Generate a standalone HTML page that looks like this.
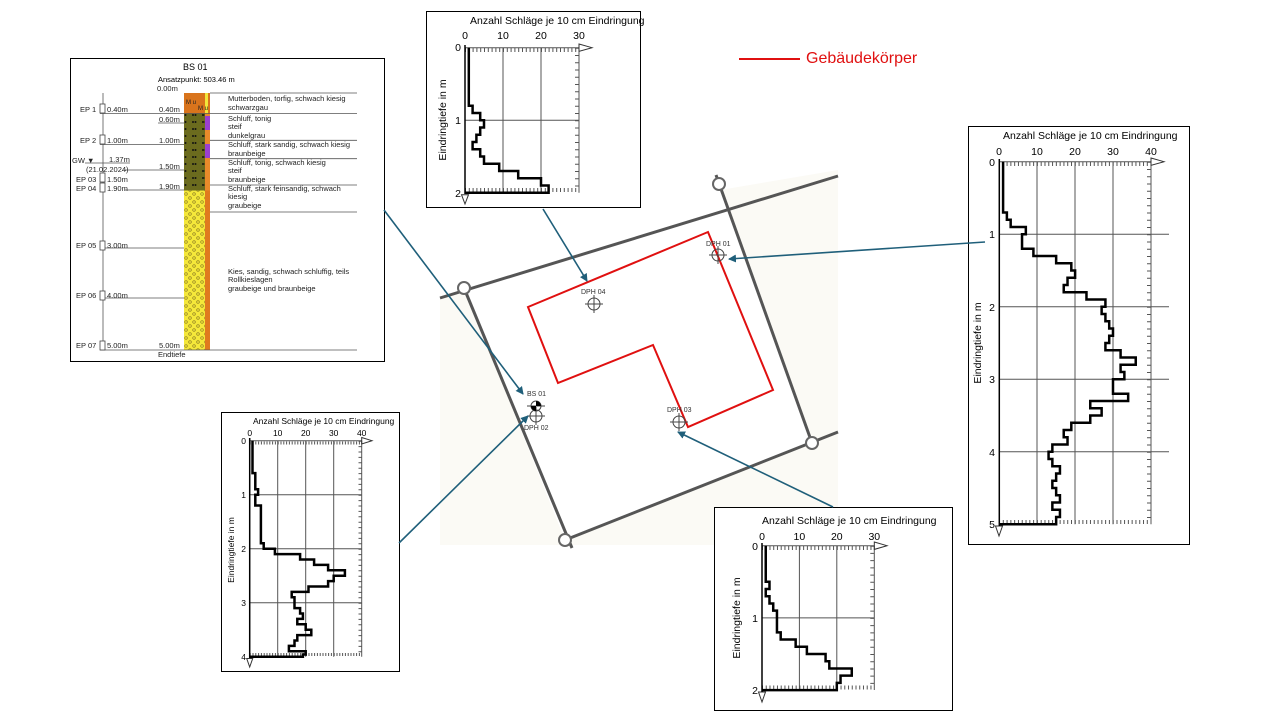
<!DOCTYPE html>
<html><head><meta charset="utf-8"><style>
html,body{margin:0;padding:0;background:#fff;}
svg{display:block;font-family:"Liberation Sans",sans-serif;}
</style></head><body>
<svg width="1280" height="720" viewBox="0 0 1280 720" xmlns="http://www.w3.org/2000/svg">
<defs>
<marker id="ar" markerWidth="8" markerHeight="8" refX="7" refY="4" orient="auto" markerUnits="userSpaceOnUse"><path d="M0,0 L8,4 L0,8 Z" fill="#1f5f7a"/></marker>
<pattern id="kies" width="8" height="8" patternUnits="userSpaceOnUse">
<rect width="8" height="8" fill="#f5e83a"/>
<circle cx="2" cy="2" r="1.3" fill="none" stroke="#8a7a20" stroke-width="0.7"/>
<circle cx="6" cy="6" r="1.3" fill="none" stroke="#8a7a20" stroke-width="0.7"/>
</pattern>
<pattern id="schluff" width="10" height="7" patternUnits="userSpaceOnUse">
<rect width="10" height="7" fill="#6b6b1e"/>
<circle cx="3" cy="3" r="1" fill="#111"/><circle cx="5.5" cy="3" r="1" fill="#111"/>
</pattern>
</defs>

<!-- MAP -->
<polygon points="440,300 720,190 838,170 838,545 440,545" fill="#fbfaf5"/>
<polygon points="464,288 720,184 812,443 565,540" fill="#fff"/>
<g stroke="#555" stroke-width="3" fill="none">
<line x1="440" y1="298" x2="838" y2="176"/>
<line x1="464" y1="288" x2="572" y2="548"/>
<line x1="716" y1="175" x2="812" y2="443"/>
<line x1="560" y1="542" x2="838" y2="432"/>
</g>
<g fill="#fff" stroke="#666" stroke-width="2">
<circle cx="464" cy="288" r="6"/><circle cx="719" cy="184" r="6"/><circle cx="812" cy="443" r="6"/><circle cx="565" cy="540" r="6"/>
</g>
<polygon points="528,307 708,232 773,390 688,427 653,345 558,383" fill="none" stroke="#e01010" stroke-width="2"/>
<g stroke="#444" stroke-width="1" fill="none">
<circle cx="718" cy="255" r="6"/><line x1="709" y1="255" x2="727" y2="255"/><line x1="718" y1="246" x2="718" y2="264"/>
<circle cx="594" cy="304" r="6"/><line x1="585" y1="304" x2="603" y2="304"/><line x1="594" y1="295" x2="594" y2="313"/>
<circle cx="679" cy="422" r="6"/><line x1="670" y1="422" x2="688" y2="422"/><line x1="679" y1="413" x2="679" y2="431"/>
<circle cx="536" cy="416" r="6"/><line x1="527" y1="416" x2="545" y2="416"/><line x1="536" y1="407" x2="536" y2="425"/>
<circle cx="536" cy="406" r="5"/><line x1="527" y1="406" x2="545" y2="406"/>
</g>
<path d="M536,406 L536,401 A5,5 0 0 1 541,406 Z M536,406 L531,406 A5,5 0 0 0 536,411 Z" fill="#000"/>
<g font-size="7" fill="#333">
<text x="706" y="246">DPH 01</text><text x="581" y="294">DPH 04</text><text x="667" y="412">DPH 03</text>
<text x="527" y="396">BS 01</text><text x="524" y="430">DPH 02</text>
</g>

<!-- Legend -->
<line x1="739" y1="59" x2="800" y2="59" stroke="#e01010" stroke-width="2"/>
<text x="806" y="63" font-size="16" fill="#e01010">Gebäudekörper</text>

<!-- BS 01 profile -->
<rect x="70.5" y="58.5" width="314" height="303" fill="#fff" stroke="#000"/>
<text x="183" y="70" font-size="9">BS 01</text>
<text x="158" y="82" font-size="7.5">Ansatzpunkt: 503.46 m</text>
<rect x="184" y="93" width="26" height="20.5" fill="#d9741c"/>
<rect x="205" y="93" width="3" height="20.5" fill="#f2e63a"/>
<rect x="184" y="113.5" width="21" height="77" fill="url(#schluff)"/>
<rect x="205" y="113.5" width="5" height="77" fill="#e88a2a"/>
<rect x="205" y="116" width="5" height="14" fill="#9b3fd0"/>
<rect x="205" y="144" width="5" height="14" fill="#9b3fd0"/>
<rect x="184" y="190.5" width="21" height="159.5" fill="url(#kies)"/>
<rect x="205" y="190.5" width="5" height="159.5" fill="#e07a1e"/>
<g font-size="6" fill="#222">
<text x="186" y="104">M u</text><text x="198" y="110">M u</text>
</g>
<g stroke="#555" stroke-width="0.8">
<line x1="100" y1="113.5" x2="357" y2="113.5"/>
<line x1="210" y1="93" x2="357" y2="93"/>
<line x1="158" y1="123" x2="185" y2="123"/>
<line x1="100" y1="144.5" x2="184" y2="144.5"/>
<line x1="210" y1="140.3" x2="357" y2="140.3"/>
<line x1="210" y1="158.7" x2="357" y2="158.7"/>
<line x1="210" y1="185" x2="357" y2="185"/>
<line x1="210" y1="212" x2="357" y2="212"/>
<line x1="85" y1="163" x2="130" y2="163"/>
<line x1="100" y1="248" x2="184" y2="248"/>
<line x1="100" y1="298" x2="184" y2="298"/>
<line x1="100" y1="350" x2="357" y2="350"/>
<line x1="103" y1="93" x2="103" y2="350"/>
<line x1="125" y1="170" x2="184" y2="170"/>
<line x1="125" y1="190" x2="184" y2="190"/>
</g>
<g fill="#fff" stroke="#444" stroke-width="0.8">
<rect x="100" y="104" width="5" height="9"/><rect x="100" y="135" width="5" height="9"/>
<rect x="100" y="173" width="5" height="9"/><rect x="100" y="183" width="5" height="9"/>
<rect x="100" y="241" width="5" height="9"/><rect x="100" y="291" width="5" height="9"/><rect x="100" y="341" width="5" height="9"/>
</g>
<g font-size="7.5" fill="#222">
<text x="157" y="91">0.00m</text><text x="159" y="112">0.40m</text><text x="159" y="122">0.60m</text>
<text x="159" y="143">1.00m</text><text x="159" y="169">1.50m</text><text x="159" y="189">1.90m</text>
<text x="159" y="348">5.00m</text><text x="158" y="357">Endtiefe</text>
<text x="80" y="112">EP 1</text><text x="107" y="112">0.40m</text>
<text x="80" y="143">EP 2</text><text x="107" y="143">1.00m</text>
<text x="72" y="163">GW ▼</text><text x="109" y="162">1.37m</text><text x="86" y="172">(21.02.2024)</text>
<text x="76" y="182">EP 03</text><text x="107" y="182">1.50m</text>
<text x="76" y="191">EP 04</text><text x="107" y="191">1.90m</text>
<text x="76" y="248">EP 05</text><text x="107" y="248">3.00m</text>
<text x="76" y="298">EP 06</text><text x="107" y="298">4.00m</text>
<text x="76" y="348">EP 07</text><text x="107" y="348">5.00m</text>
<text x="228" y="101">Mutterboden, torfig, schwach kiesig</text><text x="228" y="110">schwarzgau</text>
<text x="228" y="121">Schluff, tonig</text><text x="228" y="129">steif</text><text x="228" y="138">dunkelgrau</text>
<text x="228" y="147">Schluff, stark sandig, schwach kiesig</text><text x="228" y="156">braunbeige</text>
<text x="228" y="165">Schluff, tonig, schwach kiesig</text><text x="228" y="173">steif</text><text x="228" y="182">braunbeige</text>
<text x="228" y="191">Schluff, stark feinsandig, schwach</text><text x="228" y="199">kiesig</text><text x="228" y="208">graubeige</text>
<text x="228" y="274">Kies, sandig, schwach schluffig, teils</text><text x="228" y="282">Rollkieslagen</text><text x="228" y="291">graubeige und braunbeige</text>
</g>

<!-- Chart A (top, DPH 04) -->
<rect x="426.5" y="11.5" width="214" height="196" fill="#fff" stroke="#000"/>
<text x="470" y="24" font-size="10.5">Anzahl Schläge je 10 cm Eindringung</text>
<g font-size="10.5" text-anchor="middle"><text x="465" y="39">0</text><text x="503" y="39">10</text><text x="541" y="39">20</text><text x="579" y="39">30</text></g>
<g font-size="10.5" text-anchor="end"><text x="461" y="51">0</text><text x="461" y="124">1</text><text x="461" y="197">2</text></g>
<text transform="translate(446,120) rotate(-90)" font-size="10.5" text-anchor="middle">Eindringtiefe in m</text>
<g stroke="#555" stroke-width="1" fill="none">
<line x1="503" y1="47.7" x2="503" y2="192.7"/><line x1="541" y1="47.7" x2="541" y2="192.7"/>
<line x1="465" y1="120.2" x2="579" y2="120.2"/>
<line x1="465" y1="47.7" x2="579" y2="47.7"/><line x1="579" y1="47.7" x2="579" y2="192.7"/>
<line x1="465" y1="50" x2="579" y2="50" stroke-width="4" stroke-dasharray="1 2.8"/>
<line x1="577" y1="47.7" x2="577" y2="192.7" stroke-width="4" stroke-dasharray="1 6.25"/>
<line x1="465" y1="190" x2="579" y2="190" stroke-width="4" stroke-dasharray="1 2.8"/>
<path d="M579,44 L592,47.7 L579,51.4 Z M461.5,194.7 L468.5,194.7 L465,204 Z" stroke="#333"/>
</g>
<line x1="465" y1="45" x2="465" y2="194" stroke="#000" stroke-width="1.5"/>
<path transform="translate(465,47.7) scale(3.8,7.25)" vector-effect="non-scaling-stroke" fill="none" stroke="#000" stroke-width="2.5" d="M1,0 V8 H2 V9 H4 V10 H5 V11 H4 V12 H3 V13 H2 V14 H4 V15 H5 V16 H9 V17 H14 V18 H20 V19 H22 V20 H0"/>

<!-- Chart B (right, DPH 01) -->
<rect x="968.5" y="126.5" width="221" height="418" fill="#fff" stroke="#000"/>
<text x="1003" y="139" font-size="10.5">Anzahl Schläge je 10 cm Eindringung</text>
<g font-size="10.5" text-anchor="middle"><text x="999" y="155">0</text><text x="1037" y="155">10</text><text x="1075" y="155">20</text><text x="1113" y="155">30</text><text x="1151" y="155">40</text></g>
<g font-size="10.5" text-anchor="end"><text x="995" y="166">0</text><text x="995" y="238">1</text><text x="995" y="311">2</text><text x="995" y="383">3</text><text x="995" y="456">4</text><text x="995" y="528">5</text></g>
<text transform="translate(981,343) rotate(-90)" font-size="10.5" text-anchor="middle">Eindringtiefe in m</text>
<g stroke="#555" stroke-width="1" fill="none">
<line x1="1037" y1="161.7" x2="1037" y2="524.2"/><line x1="1075" y1="161.7" x2="1075" y2="524.2"/><line x1="1113" y1="161.7" x2="1113" y2="524.2"/>
<line x1="999" y1="234.2" x2="1169" y2="234.2"/><line x1="999" y1="306.7" x2="1169" y2="306.7"/><line x1="999" y1="379.2" x2="1169" y2="379.2"/><line x1="999" y1="451.7" x2="1169" y2="451.7"/>
<line x1="999" y1="161.7" x2="1151" y2="161.7"/><line x1="1151" y1="161.7" x2="1151" y2="524.2"/>
<line x1="999" y1="164" x2="1151" y2="164" stroke-width="4" stroke-dasharray="1 2.79"/>
<line x1="1149" y1="161.7" x2="1149" y2="524.2" stroke-width="4" stroke-dasharray="1 6.25"/>
<line x1="999" y1="522" x2="1151" y2="522" stroke-width="4" stroke-dasharray="1 2.79"/>
<path d="M1151,158 L1164,161.7 L1151,165.4 Z M995.5,526 L1002.5,526 L999,536 Z" stroke="#333"/>
</g>
<line x1="999.3" y1="159" x2="999.3" y2="526" stroke="#000" stroke-width="1.5"/>
<path transform="translate(999.3,161.7) scale(3.79,7.25)" vector-effect="non-scaling-stroke" fill="none" stroke="#000" stroke-width="2.5" d="M1,0 V7 H2 V8 H3 V9 H7 V10 H6 V12 H9 V13 H15 V14 H19 V15 H20 V16 H18 V17 H17 V18 H23 V19 H28 V20 H27 V21 H28 V22 H29 V23 H30 V24 H29 V25 H28 V26 H32 V27 H36 V28 H32 V29 H33 V30 H30 V32 H34 V33 H24 V34 H27 V35 H24 V36 H19 V37 H17 V38 H18 V39 H14 V40 H13 V41 H14 V42 H16 V43 H15 V44 H14 V45 H15 V46 H16 V47 H14 V48 H16 V49 H15 V50 H0"/>

<!-- Chart C (bottom-left, DPH 02) -->
<rect x="221.5" y="412.5" width="178" height="259" fill="#fff" stroke="#000"/>
<text x="253" y="424" font-size="8.5">Anzahl Schläge je 10 cm Eindringung</text>
<g font-size="8.5" text-anchor="middle"><text x="249.7" y="436">0</text><text x="277.7" y="436">10</text><text x="305.7" y="436">20</text><text x="333.7" y="436">30</text><text x="361.7" y="436">40</text></g>
<g font-size="8.5" text-anchor="end"><text x="246" y="444">0</text><text x="246" y="498">1</text><text x="246" y="552">2</text><text x="246" y="606">3</text><text x="246" y="660">4</text></g>
<text transform="translate(234,550) rotate(-90)" font-size="8.5" text-anchor="middle">Eindringtiefe in m</text>
<g stroke="#555" stroke-width="1" fill="none">
<line x1="277.7" y1="440.7" x2="277.7" y2="656.7"/><line x1="305.7" y1="440.7" x2="305.7" y2="656.7"/><line x1="333.7" y1="440.7" x2="333.7" y2="656.7"/>
<line x1="249.7" y1="494.7" x2="361.7" y2="494.7"/><line x1="249.7" y1="548.7" x2="361.7" y2="548.7"/><line x1="249.7" y1="602.7" x2="361.7" y2="602.7"/>
<line x1="249.7" y1="440.7" x2="361.7" y2="440.7"/><line x1="361.7" y1="440.7" x2="361.7" y2="656.7"/>
<line x1="249.7" y1="443" x2="361.7" y2="443" stroke-width="3" stroke-dasharray="1 1.8"/>
<line x1="360" y1="440.7" x2="360" y2="656.7" stroke-width="3" stroke-dasharray="1 4.4"/>
<line x1="249.7" y1="654.5" x2="361.7" y2="654.5" stroke-width="3" stroke-dasharray="1 1.8"/>
<path d="M361.7,437.5 L372,440.7 L361.7,444 Z M246.7,658.5 L252.7,658.5 L249.7,667 Z" stroke="#333"/>
</g>
<line x1="249.7" y1="438" x2="249.7" y2="658" stroke="#000" stroke-width="1.5"/>
<path transform="translate(249.7,440.7) scale(2.8,5.4)" vector-effect="non-scaling-stroke" fill="none" stroke="#000" stroke-width="2.5" d="M1,0 V6 H2 V9 H3 V10 H2 V12 H4 V19 H5 V20 H9 V21 H18 V22 H23 V23 H28 V24 H34 V25 H30 V26 H28 V27 H21 V28 H15 V29 H16 V31 H18 V32 H19 V33 H17 V34 H20 V35 H22 V36 H17 V37 H16 V38 H14 V39 H20 V39.6 H19 V40 H0"/>

<!-- Chart D (bottom-right, DPH 03) -->
<rect x="714.5" y="507.5" width="238" height="203" fill="#fff" stroke="#000"/>
<text x="762" y="524" font-size="10.5">Anzahl Schläge je 10 cm Eindringung</text>
<g font-size="10.5" text-anchor="middle"><text x="762" y="540">0</text><text x="799.4" y="540">10</text><text x="836.8" y="540">20</text><text x="874.3" y="540">30</text></g>
<g font-size="10.5" text-anchor="end"><text x="758" y="550">0</text><text x="758" y="622">1</text><text x="758" y="694">2</text></g>
<text transform="translate(740,618) rotate(-90)" font-size="10.5" text-anchor="middle">Eindringtiefe in m</text>
<g stroke="#555" stroke-width="1" fill="none">
<line x1="799.4" y1="545.7" x2="799.4" y2="690"/><line x1="836.8" y1="545.7" x2="836.8" y2="690"/>
<line x1="762" y1="617.9" x2="874.3" y2="617.9"/>
<line x1="762" y1="545.7" x2="874.3" y2="545.7"/><line x1="874.3" y1="545.7" x2="874.3" y2="690"/>
<line x1="762" y1="548" x2="874.3" y2="548" stroke-width="4" stroke-dasharray="1 2.74"/>
<line x1="872.3" y1="545.7" x2="872.3" y2="690" stroke-width="4" stroke-dasharray="1 6.22"/>
<line x1="762" y1="687.5" x2="874.3" y2="687.5" stroke-width="4" stroke-dasharray="1 2.74"/>
<path d="M874.3,542 L887,545.7 L874.3,549.4 Z M758.5,692 L765.5,692 L762,702 Z" stroke="#333"/>
</g>
<line x1="762" y1="543" x2="762" y2="692" stroke="#000" stroke-width="1.5"/>
<path transform="translate(762,545.7) scale(3.74,7.22)" vector-effect="non-scaling-stroke" fill="none" stroke="#000" stroke-width="2.5" d="M1,0 V5 H2 V6 H1 V7 H2 V8 H3 V9 H4 V12 H5 V13 H9 V14 H12 V15 H17 V16 H18 V17 H24 V18 H21 V19 H20 V20 H0"/>

<!-- Connector arrows -->
<g stroke="#1f5f7a" stroke-width="1.6" fill="none" marker-end="url(#ar)">
<line x1="543" y1="209" x2="587" y2="281"/>
<line x1="384" y1="210" x2="523" y2="394"/>
<line x1="399" y1="543" x2="528" y2="416"/>
<line x1="985" y1="242" x2="729" y2="259"/>
<line x1="833" y1="507" x2="678" y2="432"/>
</g>
</svg>
</body></html>
